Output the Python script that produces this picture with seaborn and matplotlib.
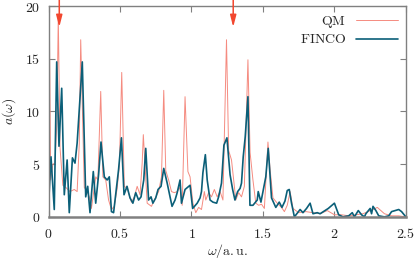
import matplotlib
matplotlib.use("Agg")
import matplotlib.pyplot as plt
import seaborn as sns
import pandas as pd

# QM spectrum (omega in a.u., a(omega))
qm_w = [0.0, 0.004, 0.015, 0.03, 0.045, 0.058, 0.068, 0.08, 0.1, 0.12, 0.15, 0.18,
        0.2, 0.215, 0.225, 0.25, 0.27, 0.285, 0.3, 0.315, 0.33, 0.345, 0.365, 0.38,
        0.4, 0.42, 0.44, 0.46, 0.48, 0.496, 0.512, 0.53, 0.55, 0.58, 0.6, 0.62,
        0.64, 0.655, 0.663, 0.69, 0.72, 0.74, 0.77, 0.79, 0.806, 0.82, 0.84, 0.86,
        0.88, 0.9, 0.92, 0.935, 0.955, 0.975, 0.99, 1.01, 1.03, 1.05, 1.07, 1.09,
        1.1, 1.12, 1.14, 1.16, 1.18, 1.2, 1.22, 1.245, 1.26, 1.28, 1.3, 1.31,
        1.33, 1.35, 1.37, 1.395, 1.41, 1.43, 1.45, 1.47, 1.49, 1.51, 1.535, 1.55,
        1.57, 1.6, 1.63, 1.65, 1.67, 1.69, 1.71, 1.75, 1.8, 1.85, 1.9, 1.95,
        2.0, 2.05, 2.1, 2.15, 2.2, 2.27, 2.3, 2.35, 2.4, 2.45, 2.5]
qm_a = [1.0, 21.0, 3.5, 5.0, 5.1, 9.0, 19.0, 6.6, 3.0, 2.8, 2.4, 2.6,
        2.4, 7.0, 16.8, 2.8, 2.4, 1.9, 0.8, 2.3, 3.8, 3.5, 11.9, 3.8,
        3.5, 1.6, 0.7, 1.0, 2.7, 5.0, 13.7, 2.9, 2.7, 1.4, 1.9, 2.9,
        2.1, 5.1, 7.8, 1.3, 1.0, 1.6, 2.4, 3.8, 12.0, 4.4, 3.5, 2.4,
        2.3, 2.4, 2.8, 1.1, 11.4, 4.3, 3.8, 1.3, 0.4, 0.9, 0.7, 2.4,
        1.6, 2.3, 1.9, 2.6, 1.9, 2.4, 1.6, 16.8, 6.3, 5.4, 2.9, 1.6,
        2.3, 1.9, 2.9, 14.9, 6.1, 3.5, 1.3, 1.1, 1.2, 0.8, 7.1, 4.5,
        1.8, 1.3, 0.9, 0.5, 1.1, 2.4, 0.8, 0.4, 0.5, 0.4, 0.3, 0.6,
        0.2, 0.2, 0.1, 0.2, 0.3, 0.7, 0.9, 0.3, 0.1, 0.1, 0.0]

# FINCO spectrum
fin_w = [0.0, 0.017, 0.04, 0.057, 0.073, 0.092, 0.11, 0.13, 0.145, 0.167, 0.185, 0.2,
         0.236, 0.26, 0.274, 0.29, 0.313, 0.33, 0.35, 0.367, 0.39, 0.41, 0.425, 0.44,
         0.455, 0.49, 0.51, 0.528, 0.549, 0.57, 0.59, 0.61, 0.63, 0.647, 0.666, 0.68,
         0.7, 0.717, 0.73, 0.75, 0.766, 0.787, 0.806, 0.83, 0.85, 0.864, 0.885, 0.9,
         0.92, 0.93, 0.955, 0.99, 1.008, 1.04, 1.06, 1.07, 1.08, 1.097, 1.11, 1.13,
         1.15, 1.176, 1.19, 1.21, 1.227, 1.248, 1.27, 1.288, 1.304, 1.323, 1.34, 1.35,
         1.362, 1.376, 1.395, 1.409, 1.43, 1.46, 1.467, 1.486, 1.52, 1.537, 1.56, 1.59,
         1.614, 1.633, 1.654, 1.67, 1.684, 1.7, 1.72, 1.76, 1.78, 1.805, 1.83, 1.85,
         1.88, 1.9, 1.957, 2.0, 2.03, 2.06, 2.1, 2.125, 2.14, 2.167, 2.19, 2.21,
         2.22, 2.25, 2.26, 2.27, 2.29, 2.31, 2.35, 2.38, 2.4, 2.45, 2.47, 2.5]
fin_a = [1.1, 5.7, 0.7, 14.7, 6.7, 12.2, 2.1, 5.4, 0.4, 5.6, 5.1, 7.0,
         14.7, 1.9, 2.9, 0.4, 4.3, 1.3, 4.0, 7.1, 3.8, 3.5, 3.8, 0.5,
         0.4, 4.5, 7.5, 2.1, 2.9, 1.8, 1.3, 2.3, 1.6, 1.9, 3.5, 6.5,
         1.6, 1.9, 1.3, 1.8, 2.6, 2.9, 4.6, 3.2, 1.9, 1.0, 1.6, 2.3,
         3.5, 1.3, 2.6, 3.0, 0.8, 1.3, 1.8, 2.4, 4.2, 5.9, 3.5, 1.6,
         1.4, 1.3, 1.9, 3.2, 6.8, 7.5, 4.0, 2.6, 1.6, 2.4, 2.7, 3.2,
         5.7, 7.6, 11.4, 1.1, 1.1, 1.6, 2.4, 1.4, 3.8, 6.5, 1.8, 0.9,
         1.4, 0.9, 1.5, 2.5, 2.6, 1.3, 0.0, 0.7, 0.4, 0.8, 1.3, 0.3,
         0.4, 0.3, 0.8, 1.3, 0.2, 0.0, 0.1, 0.4, 0.0, 0.6, 0.2, 0.0,
         0.3, 0.8, 0.3, 1.0, 0.6, 0.1, 0.0, 0.1, 0.5, 0.7, 0.5, 0.0]

# arrow positions (omega) marking the analysed frequencies
arrow_w = [0.075, 1.292]

x_ticks = [0, 0.5, 1, 1.5, 2, 2.5]
x_labels = ["0", "0.5", "1", "1.5", "2", "2.5"]
y_ticks = [0, 5, 10, 15, 20]

qm_color = "#f58b80"
fin_color = "#0b5f78"
arrow_color = "#f2472f"
spine_color = "#808080"

sns.set_style("white")
plt.rcParams["mathtext.fontset"] = "cm"
plt.rcParams["font.family"] = ["serif"]
plt.rcParams["font.serif"] = ["DejaVu Serif"]

df_qm = pd.DataFrame({"w": qm_w, "a": qm_a})
df_fin = pd.DataFrame({"w": fin_w, "a": fin_a})

fig = plt.figure(figsize=(4.15, 2.61), dpi=100)
ax = fig.add_axes([0.117, 0.169, 0.861, 0.808])

sns.lineplot(data=df_qm, x="w", y="a", ax=ax, color=qm_color, lw=0.7,
             label=r"$\mathrm{QM}$", estimator=None, sort=False)
sns.lineplot(data=df_fin, x="w", y="a", ax=ax, color=fin_color, lw=1.2,
             label=r"$\mathrm{FINCO}$", estimator=None, sort=False)

for w in arrow_w:
    ax.annotate("", xy=(w, 18.0), xytext=(w, 20.7), annotation_clip=False,
                arrowprops=dict(arrowstyle="-|>,head_length=0.7,head_width=0.18",
                                color=arrow_color, lw=1.1, shrinkA=0, shrinkB=0))

ax.set_xlim(0, 2.5)
ax.set_ylim(0, 20)
ax.set_xticks(x_ticks)
ax.set_xticklabels([f"${t}$" for t in x_labels], fontsize=10)
ax.set_yticks(y_ticks)
ax.set_yticklabels([f"${t}$" for t in y_ticks], fontsize=10)
ax.tick_params(direction="in", length=4, width=0.8, color=spine_color,
               top=True, right=True, bottom=True, left=True)
ax.tick_params(axis="x", pad=7)
ax.tick_params(axis="y", pad=6)
for s in ax.spines.values():
    s.set_color(spine_color)
    s.set_linewidth(1.0)
ax.spines["bottom"].set_linewidth(1.8)

ax.set_xlabel(r"$\omega/\mathrm{a.u.}$", fontsize=10, labelpad=1)
ax.set_ylabel(r"$a(\omega)$", fontsize=10, labelpad=5)

leg = ax.legend(loc="upper right", frameon=False, markerfirst=False,
                fontsize=10, handlelength=3.0, borderaxespad=0.2,
                labelspacing=0.15, handletextpad=0.7)

fig.savefig("out.png", dpi=100)
